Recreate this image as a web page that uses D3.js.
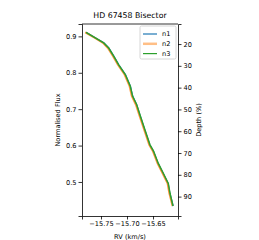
<!DOCTYPE html>
<html><head>
<meta charset="utf-8">
<script src="https://d3js.org/d3.v7.min.js"></script>
<style>
  body { margin: 0; background: #fff; }
  text { font-family: "DejaVu Sans", sans-serif; fill: #000; }
  .axis path, .axis line { stroke: #000; stroke-width: 0.8; }
  .axis text { font-size: 6.6px; fill: #000; }
</style>
</head>
<body>
<svg id="chart" width="259" height="240"></svg>
<script>
// values
const seriesNames = ["n1", "n2", "n3"];
const seriesColors = ["#1f77b4", "#ff7f0e", "#2ca02c"];
const flux = [0.911, 0.896, 0.882, 0.868, 0.846, 0.822, 0.795, 0.763, 0.736, 0.712,
              0.684, 0.643, 0.602, 0.585, 0.551, 0.524, 0.496, 0.469, 0.434];
const rvN1 = [-15.7786, -15.7608, -15.7446, -15.7350, -15.7254, -15.7158, -15.7031, -15.6935, -15.6892, -15.6815,
              -15.6752, -15.6658, -15.6562, -15.6494, -15.6402, -15.6306, -15.6210, -15.6177, -15.6113];
const rvN2 = [-15.7803, -15.7625, -15.7463, -15.7368, -15.7272, -15.7176, -15.7048, -15.6952, -15.6910, -15.6830,
              -15.6766, -15.6670, -15.6574, -15.6506, -15.6414, -15.6318, -15.6222, -15.6188, -15.6126];
const rvN3 = [-15.7788, -15.7610, -15.7448, -15.7352, -15.7256, -15.7160, -15.7033, -15.6937, -15.6894, -15.6813,
              -15.6750, -15.6654, -15.6558, -15.6490, -15.6398, -15.6302, -15.6206, -15.6173, -15.6117];
const xTicks = [-15.75, -15.70, -15.65];
const yTicks = [0.5, 0.6, 0.7, 0.8, 0.9];
const depthTicks = [20, 30, 40, 50, 60, 70, 80, 90];

const svg = d3.select("#chart");
const margins = {top: 24, right: 81, bottom: 24, left: 82};
const width = 259, height = 240;
const chartW = width - margins.left - margins.right;
const chartH = height - margins.top - margins.bottom;

const x = d3.scaleLinear().domain([-15.7865, -15.602]).range([0, chartW]);
const y = d3.scaleLinear().domain([0.4065, 0.934]).range([chartH, 0]);
const depth = d3.scaleLinear().domain([10.8, 98.9]).range([0, chartH]);

const g = svg.append("g").attr("transform", "translate(" + margins.left + "," + margins.top + ")");

const minus = s => s.replace("-", "\u2212");

g.append("g").attr("class", "axis")
  .attr("transform", "translate(0," + chartH + ")")
  .call(d3.axisBottom(x).tickValues(xTicks).tickSize(3.5).tickPadding(2).tickFormat(d => minus(d3.format(".2f")(d))));

g.append("g").attr("class", "axis")
  .call(d3.axisLeft(y).tickValues(yTicks).tickSize(3.5).tickPadding(2).tickFormat(d3.format(".1f")));

g.append("g").attr("class", "axis")
  .attr("transform", "translate(" + chartW + ",0)")
  .call(d3.axisRight(depth).tickValues(depthTicks).tickSize(3.5).tickPadding(2));

// top spine
g.append("line").attr("x1", 0).attr("x2", chartW).attr("y1", 0).attr("y2", 0)
  .attr("stroke", "#000").attr("stroke-width", 0.8);

const allRv = [rvN1, rvN2, rvN3];
const line = d3.line().x(d => x(d[0])).y(d => y(d[1]));

allRv.forEach((rv, i) => {
  const pts = rv.map((v, j) => [v, flux[j]]);
  g.append("path")
    .datum(pts)
    .attr("d", line)
    .attr("fill", "none")
    .attr("stroke", seriesColors[i])
    .attr("stroke-width", i == 1 ? 1.8 : 1.4)
    .attr("stroke-opacity", i == 1 ? 0.8 : 1);
});

// title and axis labels
svg.append("text").attr("x", margins.left + chartW / 2).attr("y", 18)
  .attr("text-anchor", "middle").style("font-size", "7.8px").text("HD 67458 Bisector");

svg.append("text").attr("x", margins.left + chartW / 2).attr("y", 239)
  .attr("text-anchor", "middle").style("font-size", "6.6px").text("RV (km/s)");

svg.append("text").attr("transform", "translate(60," + (margins.top + chartH / 2) + ") rotate(-90)")
  .attr("text-anchor", "middle").style("font-size", "6.6px").text("Normalised Flux");

svg.append("text").attr("transform", "translate(201," + (margins.top + chartH / 2) + ") rotate(-90)")
  .attr("text-anchor", "middle").style("font-size", "6.6px").text("Depth (%)");

// legend
const legend = svg.append("g").attr("transform", "translate(140,26)");
legend.append("rect").attr("width", 36).attr("height", 33).attr("rx", 1.5)
  .attr("fill", "#fff").attr("fill-opacity", 0.8).attr("stroke", "#ccc").attr("stroke-width", 0.8);
seriesNames.forEach((name, i) => {
  const yy = 8 + i * 9.8;
  legend.append("line").attr("x1", 3).attr("x2", 17).attr("y1", yy).attr("y2", yy)
    .attr("stroke", seriesColors[i])
    .attr("stroke-width", i == 1 ? 2.5 : 1.2)
    .attr("stroke-opacity", i == 1 ? 0.5 : 1);
  legend.append("text").attr("x", 22).attr("y", yy + 2.3)
    .style("font-size", "6.6px").text(name);
});
</script>
</body>
</html>
